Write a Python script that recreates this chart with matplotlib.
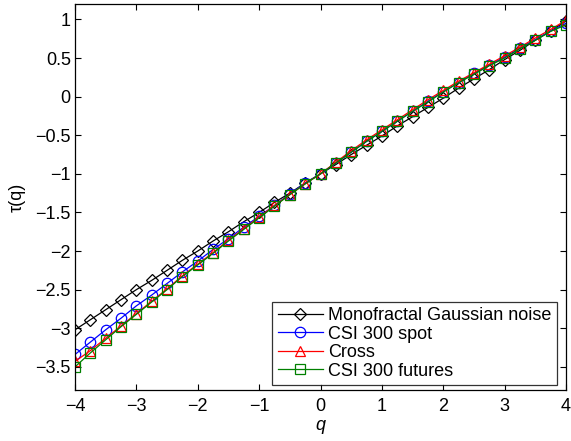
import matplotlib
matplotlib.use("Agg")
import matplotlib.pyplot as plt

plt.rcParams["font.family"] = ["Liberation Sans", "DejaVu Sans"]

# q values and tau(q) curves
Q = [-4.0, -3.75, -3.5, -3.25, -3.0, -2.75, -2.5, -2.25, -2.0, -1.75, -1.5,
     -1.25, -1.0, -0.75, -0.5, -0.25, 0.0, 0.25, 0.5, 0.75, 1.0, 1.25, 1.5,
     1.75, 2.0, 2.25, 2.5, 2.75, 3.0, 3.25, 3.5, 3.75, 4.0]

TAU_GAUSS = [-3.02, -2.89, -2.76, -2.63, -2.50, -2.38, -2.25, -2.12, -2.00,
             -1.87, -1.75, -1.62, -1.50, -1.37, -1.25, -1.12, -1.00, -0.88,
             -0.75, -0.63, -0.51, -0.38, -0.26, -0.14, -0.02, 0.11, 0.23,
             0.35, 0.48, 0.60, 0.73, 0.85, 0.98]
TAU_SPOT = [-3.34, -3.18, -3.02, -2.87, -2.71, -2.57, -2.42, -2.27, -2.13,
            -1.98, -1.84, -1.69, -1.55, -1.41, -1.26, -1.12, -1.00, -0.86,
            -0.72, -0.58, -0.45, -0.32, -0.19, -0.06, 0.065, 0.18, 0.30,
            0.41, 0.51, 0.63, 0.74, 0.85, 0.95]
TAU_CROSS = [-3.43, -3.29, -3.13, -2.97, -2.81, -2.65, -2.49, -2.32, -2.17,
             -2.02, -1.86, -1.71, -1.56, -1.41, -1.27, -1.13, -1.00, -0.85,
             -0.70, -0.56, -0.43, -0.30, -0.17, -0.04, 0.08, 0.20, 0.31,
             0.42, 0.53, 0.64, 0.76, 0.87, 0.99]
TAU_FUTURES = [-3.50, -3.32, -3.15, -2.98, -2.82, -2.66, -2.50, -2.33, -2.18,
               -2.03, -1.87, -1.72, -1.57, -1.42, -1.27, -1.13, -1.00, -0.86,
               -0.72, -0.58, -0.45, -0.32, -0.19, -0.07, 0.06, 0.18, 0.29,
               0.40, 0.50, 0.62, 0.73, 0.845, 0.93]

SERIES = [
    (TAU_GAUSS, "Monofractal Gaussian noise", "black", "D", 6),
    (TAU_SPOT, "CSI 300 spot", "blue", "o", 7.5),
    (TAU_CROSS, "Cross", "red", "^", 7.5),
    (TAU_FUTURES, "CSI 300 futures", "#008000", "s", 6.5),
]

fig = plt.figure(figsize=(5.71, 4.41), dpi=100)
ax = fig.add_axes([75 / 571, 51 / 441, 491 / 571, 386 / 441])

for vals, label, color, marker, ms in SERIES:
    ax.plot(Q, vals, color=color, lw=0.9, marker=marker, ms=ms,
            mfc="none", mec=color, mew=0.9, label=label)

ax.set_xlim(-4, 4)
ax.set_ylim(-3.8, 1.2)
ax.set_xticks(range(-4, 5))
ax.set_yticks([-3.5, -3, -2.5, -2, -1.5, -1, -0.5, 0, 0.5, 1])
ax.set_yticklabels(["\u22123.5", "\u22123", "\u22122.5", "\u22122", "\u22121.5",
                    "\u22121", "\u22120.5", "0", "0.5", "1"])
ax.tick_params(direction="in", top=True, right=True, length=4, width=0.8,
               labelsize=13)
ax.tick_params(axis="x", pad=6)
ax.tick_params(axis="y", pad=3)
for sp in ax.spines.values():
    sp.set_linewidth(0.9)

ax.set_xlabel("q", fontsize=13, style="italic", labelpad=1)
ax.set_ylabel("\u03c4(q)", fontsize=13, labelpad=7)

leg = ax.legend(loc="lower right", bbox_to_anchor=(0.9817, 0.013),
                borderaxespad=0, fontsize=13, frameon=True, fancybox=False,
                edgecolor="black", handlelength=2.5, handletextpad=0.3,
                labelspacing=0.08, borderpad=0.3)
leg.get_frame().set_linewidth(0.9)

fig.savefig("out.png", dpi=100)
